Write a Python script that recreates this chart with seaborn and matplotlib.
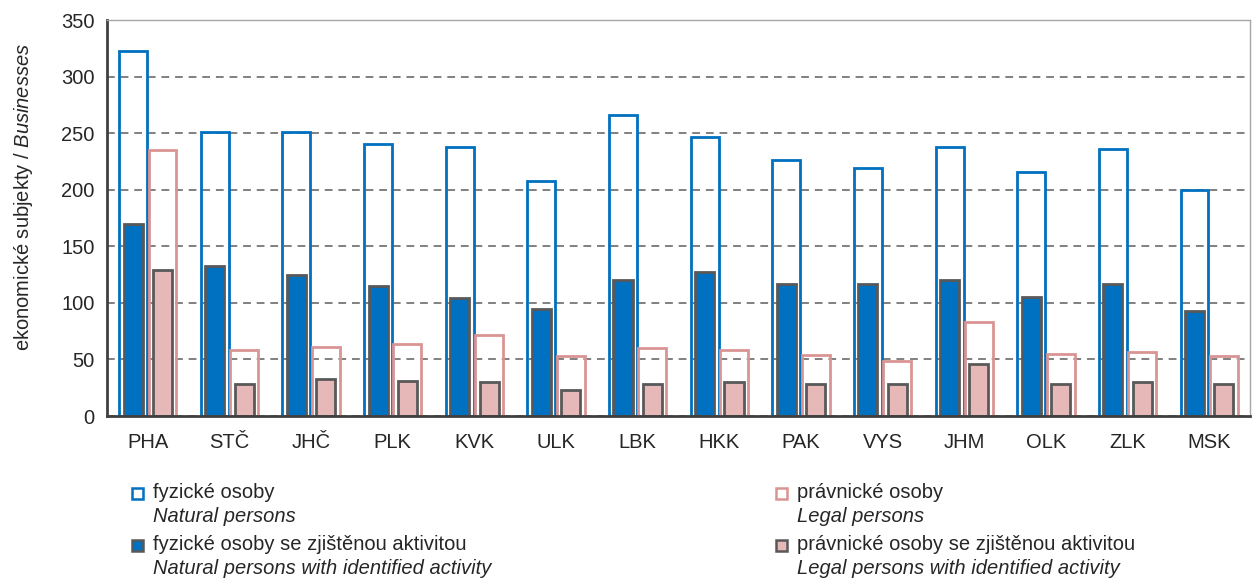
import matplotlib

matplotlib.use("Agg")
import matplotlib.pyplot as plt
import numpy as np
import pandas as pd
import seaborn as sns
from matplotlib.patches import Rectangle

# Regions (kraje) and values
regions = ["PHA", "STČ", "JHČ", "PLK", "KVK", "ULK", "LBK", "HKK", "PAK", "VYS", "JHM", "OLK", "ZLK", "MSK"]
natural_total = [323, 251, 251, 240, 238, 208, 266, 247, 226, 219, 238, 216, 236, 200]
legal_total = [235, 58, 61, 64, 72, 53, 60, 58, 54, 49, 83, 55, 57, 53]
natural_active = [170, 133, 125, 115, 104, 95, 120, 127, 117, 117, 120, 105, 117, 93]
legal_active = [129, 28, 33, 31, 30, 23, 28, 30, 28, 28, 46, 28, 30, 28]
y_ticks = [0, 50, 100, 150, 200, 250, 300, 350]

legend_cz = ["fyzické osoby", "právnické osoby",
             "fyzické osoby se zjištěnou aktivitou", "právnické osoby se zjištěnou aktivitou"]
legend_en = ["Natural persons", "Legal persons",
             "Natural persons with identified activity", "Legal persons with identified activity"]

blue_line = "#0070C0"
pink_line = "#D99594"
blue_fill = "#0070C0"
pink_fill = "#E6B9B8"
edge_dark = "#595959"
font_size = 14.5

sns.set_style("white")
plt.rcParams["font.family"] = ["Liberation Sans", "DejaVu Sans"]
plt.rcParams["mathtext.fontset"] = "custom"
plt.rcParams["mathtext.rm"] = "Liberation Sans"
plt.rcParams["mathtext.it"] = "Liberation Sans:italic"

hue_order = ["fyzické", "právnické"]
total_df = pd.DataFrame({
    "region": regions * 2,
    "value": natural_total + legal_total,
    "type": ["fyzické"] * len(regions) + ["právnické"] * len(regions),
})
active_df = pd.DataFrame({
    "region": regions * 2,
    "value": natural_active + legal_active,
    "type": ["fyzické"] * len(regions) + ["právnické"] * len(regions),
})

fig = plt.figure(figsize=(12.53, 5.87), dpi=100)
ax = fig.add_axes([0.0854, 0.2913, 0.9122, 0.6746])
ax.set_axisbelow(True)
ax.yaxis.grid(True, linestyle=(0, (4, 3)), color="#808080", linewidth=1.4)

sns.barplot(data=total_df, x="region", y="value", hue="type", order=regions,
            hue_order=hue_order, palette=[blue_line, pink_line], fill=False,
            width=0.72, gap=0.05, linewidth=2, saturation=1, errorbar=None,
            legend=False, ax=ax)
sns.barplot(data=active_df, x="region", y="value", hue="type", order=regions,
            hue_order=hue_order, palette=[blue_fill, pink_fill], edgecolor=edge_dark,
            width=0.72, gap=0.35, linewidth=2, saturation=1, errorbar=None,
            legend=False, ax=ax)

ax.set_xlim(-0.5, len(regions) - 0.5)
ax.set_ylim(0, 350)
ax.set_yticks(y_ticks)
ax.set_xlabel("")
ax.set_ylabel(r"ekonomické subjekty / $\mathit{Businesses}$", fontsize=font_size)
ax.yaxis.set_label_coords(-0.063, 0.553)
ax.set_xticks(np.arange(-0.5, len(regions), 1), minor=True)
ax.tick_params(axis="x", which="major", length=0, labelsize=font_size, pad=12)
ax.tick_params(axis="x", which="minor", length=6, width=1.5, color="#404040", direction="out")
ax.tick_params(axis="y", length=5, width=1.5, color="#404040", direction="out",
               labelsize=font_size, pad=4)

for side in ["left", "bottom"]:
    ax.spines[side].set_color("#404040")
    ax.spines[side].set_linewidth(2)
for side in ["top", "right"]:
    ax.spines[side].set_color("#A6A6A6")
    ax.spines[side].set_linewidth(1)

# Custom two-line legend below the chart
W, H = 1253, 587
legend_pos = [(132, 493), (776, 493), (132, 545), (776, 545)]
legend_face = ["white", "white", blue_fill, pink_fill]
legend_edge = [blue_line, pink_line, edge_dark, edge_dark]
for (px, py), face, edge, cz, en in zip(legend_pos, legend_face, legend_edge, legend_cz, legend_en):
    fig.add_artist(Rectangle((px / W, 1 - (py + 6) / H), 11 / W, 11 / H,
                             transform=fig.transFigure, facecolor=face, edgecolor=edge,
                             linewidth=1.8))
    fig.text((px + 21) / W, 1 - py / H, cz, fontsize=font_size, va="center", ha="left")
    fig.text((px + 21) / W, 1 - (py + 23) / H, en, fontsize=font_size, va="center", ha="left",
             style="italic")

fig.savefig("out.png", dpi=100)
